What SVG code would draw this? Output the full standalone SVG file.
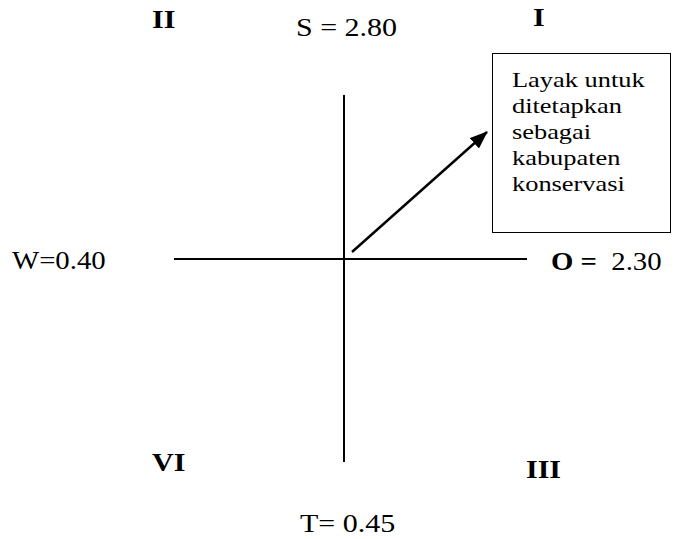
<svg xmlns="http://www.w3.org/2000/svg" width="678" height="539" viewBox="0 0 678 539">
<defs>
<style>
text{font-family:"Liberation Serif","Times New Roman",serif;fill:#000}
.t{font-size:25px}
.b{font-size:25px;font-weight:bold}
.box{font-size:22px}
.ax{stroke:#000;stroke-width:2;fill:none}
</style>
<marker id="ah2" markerWidth="18" markerHeight="14" refX="17" refY="7" orient="auto" markerUnits="userSpaceOnUse" viewBox="0 0 18 14">
<path d="M0,0 L18,7 L0,14 z" fill="#000"/>
</marker>
</defs>
<rect width="678" height="539" fill="#fff"/>
<g id="connectors">
<line class="ax" x1="344" y1="95" x2="344" y2="462"/>
<line class="ax" x1="174" y1="259" x2="527" y2="259"/>
<line x1="352" y1="252" x2="487" y2="132" stroke="#000" stroke-width="2.5" marker-end="url(#ah2)"/>
</g>
<g id="box">
<rect x="492.5" y="53.5" width="178" height="179" fill="#fff" stroke="#000" stroke-width="1"/>
<text class="box" transform="matrix(1.2 0 0 1 512 87)">Layak untuk</text>
<text class="box" transform="matrix(1.2 0 0 1 512 113)">ditetapkan</text>
<text class="box" transform="matrix(1.2 0 0 1 512 139)">sebagai</text>
<text class="box" transform="matrix(1.2 0 0 1 512 165)">kabupaten</text>
<text class="box" transform="matrix(1.2 0 0 1 512 191)">konservasi</text>
</g>
<g id="labels">
<text class="b" transform="matrix(1.2 0 0 1 152 28)">II</text>
<text class="t" transform="matrix(1.2 0 0 1 296 36)">S = 2.80</text>
<text class="b" transform="matrix(1.2 0 0 1 533 26)">I</text>
<text class="t" transform="matrix(1.15 0 0 1 12 269)">W=0.40</text>
<text transform="matrix(1.15 0 0 1 551 270)"><tspan class="b">O =</tspan><tspan class="t">&#160; 2.30</tspan></text>
<text class="b" transform="matrix(1.2 0 0 1 152 471)">VI</text>
<text class="b" transform="matrix(1.2 0 0 1 526 478)">III</text>
<text class="t" transform="matrix(1.2 0 0 1 300 532)">T= 0.45</text>
</g>
</svg>
